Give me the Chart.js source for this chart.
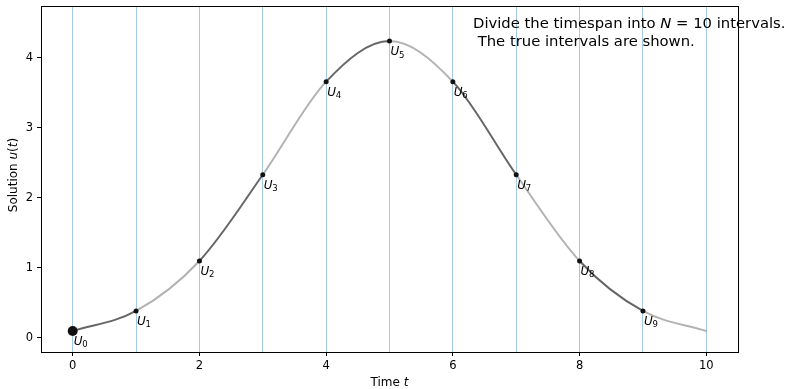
<!DOCTYPE html>
<html>
<head>
<meta charset="utf-8">
<script src="https://cdn.jsdelivr.net/npm/chart.js@4/dist/chart.umd.min.js"></script>
<style>
  html, body { margin: 0; padding: 0; background: #fff; }
</style>
</head>
<body>
<canvas id="chart" width="787" height="389"></canvas>
<script>
// values
const times = [0, 1, 2, 3, 4, 5, 6, 7, 8, 9, 10];
const solution = [0.10, 0.386, 1.10, 2.33, 3.66, 4.24, 3.66, 2.33, 1.10, 0.386, 0.10];
const intervalEdges = [0, 1, 2, 3, 4, 5, 6, 7, 8, 9, 10];
const xTickLabels = [0, 2, 4, 6, 8, 10];
const yTickLabels = [0, 1, 2, 3, 4];
const pointNames = ["0", "1", "2", "3", "4", "5", "6", "7", "8", "9"];

const FONT = "'DejaVu Sans', sans-serif";
const DARK = "rgba(0,0,0,0.6)";
const LIGHT = "rgba(0,0,0,0.3)";

function drawRich(ctx, parts, x, y, align) {
    let total = 0;
    parts.forEach(p => { ctx.font = p.font; total += ctx.measureText(p.text).width; });
    let cx = align === "center" ? x - total / 2 : x;
    ctx.textAlign = "left";
    parts.forEach(p => {
        ctx.font = p.font;
        ctx.fillText(p.text, cx, y);
        cx += ctx.measureText(p.text).width;
    });
}

const extras = {
    id: "extras",
    afterDraw: function (chart) {
        const ctx = chart.ctx;
        const area = chart.chartArea;
        ctx.save();
        // frame
        ctx.strokeStyle = "#000";
        ctx.lineWidth = 1;
        ctx.strokeRect(area.left + 0.5, area.top + 0.5, area.right - area.left, area.bottom - area.top);

        ctx.fillStyle = "#000";
        ctx.textBaseline = "alphabetic";

        // U_i labels
        const meta = chart.getDatasetMeta(0);
        pointNames.forEach((name, i) => {
            const pt = meta.data[i];
            ctx.textAlign = "left";
            ctx.font = "italic 12px " + FONT;
            ctx.fillText("U", pt.x + 1, pt.y + 14);
            ctx.font = "8.5px " + FONT;
            ctx.fillText(name, pt.x + 9.5, pt.y + 16.5);
        });

        // note
        const regular = "14.8px " + FONT;
        drawRich(ctx, [
            { text: "Divide the timespan into ", font: regular },
            { text: "N", font: "italic 14.8px " + FONT },
            { text: " = 10 intervals.", font: regular }
        ], area.left + 432, area.top + 22);
        drawRich(ctx, [{ text: " The true intervals are shown.", font: regular }], area.left + 432, area.top + 40);

        // axis titles
        drawRich(ctx, [
            { text: "Time ", font: "12px " + FONT },
            { text: "t", font: "italic 12px " + FONT }
        ], (area.left + area.right) / 2, 386, "center");

        ctx.translate(17, (area.top + area.bottom) / 2 - 4);
        ctx.rotate(-Math.PI / 2);
        drawRich(ctx, [
            { text: "Solution ", font: "12px " + FONT },
            { text: "u", font: "italic 12px " + FONT },
            { text: "(", font: "12px " + FONT },
            { text: "t", font: "italic 12px " + FONT },
            { text: ")", font: "12px " + FONT }
        ], 0, 0, "center");
        ctx.restore();
    }
};

const points = times.map((t, i) => ({ x: t, y: solution[i] }));

new Chart(document.getElementById("chart"), {
    type: "line",
    data: {
        datasets: [{
            data: points,
            borderWidth: 2,
            borderColor: DARK,
            cubicInterpolationMode: "monotone",
            segment: {
                borderColor: ctx => ctx.p0DataIndex % 2 === 0 ? DARK : LIGHT
            },
            pointRadius: times.map((t, i) => i === 0 ? 5 : (i < pointNames.length ? 2.5 : 0)),
            pointBackgroundColor: "#111",
            pointBorderWidth: 0
        }]
    },
    options: {
        responsive: false,
        animation: false,
        events: [],
        layout: { padding: { top: 6, right: 49, left: 0, bottom: 0 } },
        plugins: { legend: { display: false }, tooltip: { enabled: false } },
        scales: {
            x: {
                type: "linear",
                min: -0.5,
                max: 10.5,
                afterBuildTicks: axis => { axis.ticks = intervalEdges.map(v => ({ value: v })); },
                afterFit: scale => {
                    scale.height = 37;
                    scale.paddingLeft = 0;
                    scale.paddingRight = 0;
                },
                ticks: {
                    padding: 3,
                    color: "#000",
                    font: { family: FONT, size: 11.5 },
                    maxRotation: 0,
                    autoSkip: false,
                    callback: v => xTickLabels.includes(v) ? String(v) : ""
                },
                grid: {
                    color: "rgba(31,119,180,0.4)",
                    lineWidth: 1,
                    tickLength: 4,
                    tickColor: ctx => xTickLabels.includes(ctx.tick.value) ? "#000" : "rgba(0,0,0,0)"
                },
                border: { color: "#000", width: 1 }
            },
            y: {
                type: "linear",
                min: -0.2,
                max: 4.74,
                afterBuildTicks: axis => { axis.ticks = yTickLabels.map(v => ({ value: v })); },
                afterFit: scale => {
                    scale.width = 41;
                    scale.paddingTop = 0;
                    scale.paddingBottom = 0;
                },
                ticks: {
                    padding: 4,
                    color: "#000",
                    font: { family: FONT, size: 11.5 }
                },
                grid: {
                    drawOnChartArea: false,
                    tickLength: 4,
                    tickColor: "#000"
                },
                border: { color: "#000", width: 1 }
            }
        }
    },
    plugins: [extras]
});
</script>
</body>
</html>
